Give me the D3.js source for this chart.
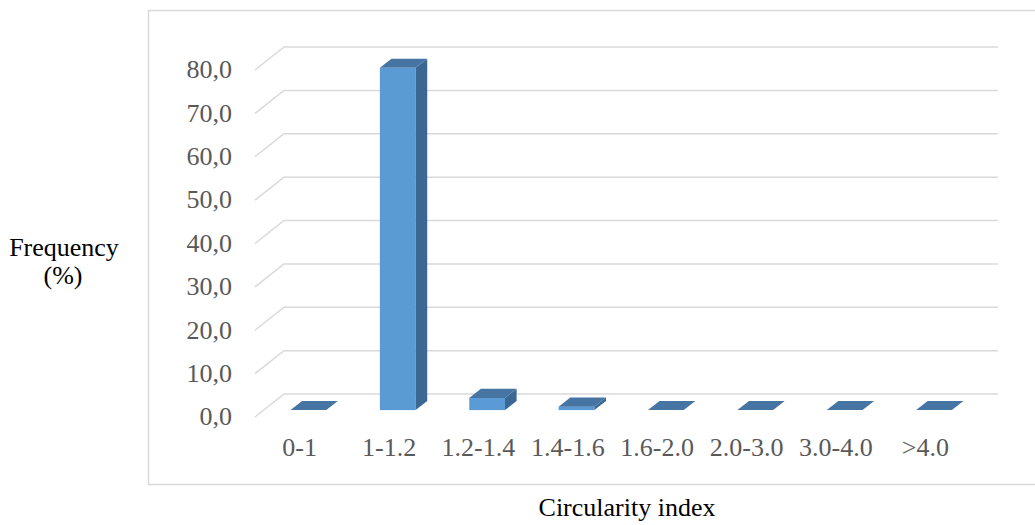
<!DOCTYPE html>
<html>
<head>
<meta charset="utf-8">
<script src="https://cdn.jsdelivr.net/npm/d3@7"></script>
<style>
  body { margin: 0; background: #fff; }
  svg { display: block; }
  text { font-family: "Liberation Serif", "Times New Roman", serif; }
</style>
</head>
<body>
<div id="chart"></div>
<script>
// data
const categories = ["0-1", "1-1.2", "1.2-1.4", "1.4-1.6", "1.6-2.0", "2.0-3.0", "3.0-4.0", ">4.0"];
const frequency = [0, 78.9, 2.8, 0.8, 0, 0, 0, 0];
const yTicks = [0, 10, 20, 30, 40, 50, 60, 70, 80];

const width = 1035, height = 525;

// 3d depth offset of the back wall relative to the front plane
const depthX = 29, depthY = -23;
// bars sit between 30% and 70% of the depth
const dFront = 0.3, dBack = 0.7;

const svg = d3.select("#chart").append("svg")
    .attr("width", width)
    .attr("height", height);

// chart frame
svg.append("rect")
    .attr("x", 148.5).attr("y", 10.5)
    .attr("width", 900).attr("height", 474)
    .attr("fill", "none")
    .attr("stroke", "#d9d9d9")
    .attr("stroke-width", 1.5);

const y = d3.scaleLinear().domain([0, 80]).range([417, 70]);
const x = d3.scaleBand().domain(categories).range([255, 970])
    .paddingInner(0.6).paddingOuter(0.3);

// gridlines: diagonal on the side wall, then along the back wall
const grid = svg.append("g").attr("fill", "none")
    .attr("stroke", "#d9d9d9").attr("stroke-width", 1.5);
grid.selectAll("path").data(yTicks).enter().append("path")
    .attr("d", d => {
        const yf = y(d), yb = y(d) + depthY;
        return `M${x.range()[0]},${yf}L${x.range()[0] + depthX},${yb}L${x.range()[1] + depthX - 1},${yb}`;
    });

// y axis labels with decimal comma
const locale = d3.formatLocale({ decimal: ",", thousands: ".", grouping: [3], currency: ["", ""] });
const yAxis = d3.axisLeft(y).tickValues(yTicks).tickSize(0).tickPadding(0)
    .tickFormat(locale.format(".1f"));
const gy = svg.append("g").attr("transform", "translate(232,0)").call(yAxis);
gy.select(".domain").remove();
gy.selectAll("text")
    .attr("fill", "#595959")
    .style("font-size", "26px")
    .style("font-family", "'Liberation Serif', serif")
    .attr("dy", "0.3em");

// category labels
const xAxis = d3.axisBottom(x).tickSize(0).tickPadding(0);
const gx = svg.append("g").attr("transform", "translate(0,438)").call(xAxis);
gx.select(".domain").remove();
gx.selectAll("text")
    .attr("fill", "#595959")
    .style("font-size", "26px")
    .style("font-family", "'Liberation Serif', serif");

// 3d columns
const bars = svg.append("g").selectAll("g").data(frequency).enter().append("g");
const fx = (d, i) => x(categories[i]) + dFront * depthX;
const fy0 = y(0) + dFront * depthY;
const bw = x.bandwidth();
const ox = (dBack - dFront) * depthX, oy = (dBack - dFront) * depthY;

bars.each(function(d, i) {
    const g = d3.select(this);
    const x0 = fx(d, i), x1 = x0 + bw;
    const yt = y(d) + dFront * depthY;
    if (d > 0) {
        g.append("rect")
            .attr("x", x0).attr("y", yt)
            .attr("width", bw).attr("height", fy0 - yt)
            .attr("fill", "#5b9bd5");
        g.append("path")
            .attr("d", `M${x1},${yt}L${x1 + ox},${yt + oy}L${x1 + ox},${fy0 + oy}L${x1},${fy0}Z`)
            .attr("fill", "#3b6893");
    }
    g.append("path")
        .attr("d", `M${x0},${yt}L${x1},${yt}L${x1 + ox},${yt + oy}L${x0 + ox},${yt + oy}Z`)
        .attr("fill", "#4674a3");
});

// axis titles
svg.append("text")
    .attr("x", 64).attr("y", 256)
    .attr("text-anchor", "middle")
    .style("font-size", "26px")
    .text("Frequency");
svg.append("text")
    .attr("x", 63).attr("y", 284)
    .attr("text-anchor", "middle")
    .style("font-size", "26px")
    .text("(%)");
svg.append("text")
    .attr("x", 627).attr("y", 516)
    .attr("text-anchor", "middle")
    .style("font-size", "26px")
    .text("Circularity index");
</script>
</body>
</html>
